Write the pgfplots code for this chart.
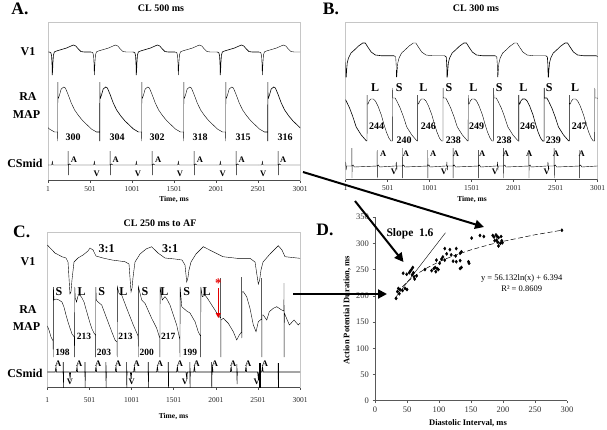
\documentclass[border=0pt]{standalone}
\usepackage{fontspec}
\setmainfont{Liberation Serif}
\usepackage{pgfplots}
\usepackage{pgfplotstable}
\pgfplotsset{compat=1.18}
\usetikzlibrary{arrows.meta}
\newcommand{\fs}[1]{\fontsize{#1}{#1}\selectfont}

% one beat of each trace (t in ms from the beat's reference, y in px from the top)
\pgfplotstableread{
t y
-40 52
-18 52.5
-8 56
-3 64
0 75
4 70
8 62
14 55
25 52
50 51
90 50
130 49
170 48
210 46.5
250 45
280 46
310 49
340 51.5
380 52
460 52
}\AVone
\pgfplotstableread{
t y
-40 132
-3 132
-1 141
0 82
2 97
8 98
20 95
40 89
70 87
90 88
120 94
160 103
200 110
250 116
300 121
350 125
400 129
440 131
460 132
}\AMap
\pgfplotstableread{
t y
-40 165
-6 165
-2 163
1 161.5
4 163
8 165
188 165
189 151
191 175
193 165
205 164
220 165
460 165
}\ACs
\pgfplotstableread{
t y
-30 55.7
-10 57
-4 65
-1 77
3 77
8 70
15 63
30 58
60 53
100 50
150 46
200 43
230 43
260 47
300 52
350 55
420 55.7
572 55.7
}\BVone
\pgfplotstableread{
t y
-5 141
0 141
0.5 95
3 104
12 104
25 101
45 99
75 99
100 101
130 106
170 115
200 124
230 132
260 138
285 141
302 141
303 88
306 98
335 98
360 102
394 108
430 116
473 127
533 135
585 140
597 141
}\BMap
\pgfplotstableread{
t y
-20 166
-6 166
-3 162
0 166
3 170
6 166
70 166
71 148
72 178
73 166
85 165
100 167
371 166
372 150
373 178
374 166
386 165
400 167
582 166
}\BCs

\pgfplotsset{
  ecg/.style={
    scale only axis, anchor=south west,
    xmin=1, xmax=3001,
    y filter/.expression={-y},
    axis line style={gray!45, line width=0.5pt},
    xtick={1,501,1001,1501,2001,2501,3001},
    xticklabels={1,501,1001,1501,2001,2501,3001},
    ytick=\empty,
    xtick pos=bottom, xtick align=outside,
    major tick length=2.5pt,
    tick style={black!70, line width=0.5pt},
    xticklabel style={font=\fs{7.5}, text=black!85, inner sep=1pt, yshift=-3pt},
    cycle list={{black, solid, line width=0.6pt, no marks}},
  },
}

\begin{document}
\begin{tikzpicture}
\useasboundingbox (0,0) rectangle (607pt,-429pt);

% ---------- A: CL 500 ms ----------
\begin{axis}[ecg, at={(48pt,-180pt)}, width=252pt, height=158pt, ymin=-180, ymax=-22]
\draw[black!70, line width=0.5pt] (axis description cs:0,0) -- (axis description cs:1,0);
\pgfplotsinvokeforeach{-448,52,552,1052,1552,2052,2552,3052}{
  \addplot table[x expr=\thisrow{t}+#1, y=y] {\AVone};
  \addplot table[x expr=\thisrow{t}+#1, y=y] {\ACs};
}
\pgfplotsinvokeforeach{-382,118,618,1118,1618,2118,2618,3118}{
  \addplot table[x expr=\thisrow{t}+#1, y=y] {\AMap};
}
\end{axis}

% ---------- B: CL 300 ms ----------
\begin{axis}[ecg, at={(345.7pt,-179pt)}, width=252pt, height=157pt, ymin=-179, ymax=-22]
\draw[black!70, line width=0.5pt] (axis description cs:0,0) -- (axis description cs:1,0);
\pgfplotsinvokeforeach{-598,4,606,1208,1810,2412,3014}{
  \addplot table[x expr=\thisrow{t}+#1, y=y] {\BVone};
  \addplot table[x expr=\thisrow{t}+#1, y=y] {\BCs};
}
\pgfplotsinvokeforeach{-347,255,857,1459,2061,2663}{
  \addplot table[x expr=\thisrow{t}+#1, y=y] {\BMap};
}
\end{axis}

% ---------- C: CL 250 ms to AF ----------
\begin{axis}[ecg, at={(47.3pt,-387pt)}, width=252.7pt, height=155pt, ymin=-387, ymax=-232,
  xticklabel style={yshift=-4pt}]
\draw[black!70, line width=0.5pt] (axis description cs:0,0) -- (axis description cs:1,0);
% V1
\addplot coordinates {
(1,245) (92,253) (175,256.7) (223,258) (247,262) (270,294) (282,292) (294,280) (318,262)
(365,258) (425,255) (484,251) (508,248) (544,250) (579,256) (662,258) (769,260) (923,261.7)
(971,264) (995,292) (1007,288) (1018,278) (1042,262) (1102,254) (1173,249) (1240,246.7)
(1315,253) (1398,258) (1517,259) (1600,260) (1636,265) (1656,282) (1670,278) (1683,270)
(1707,262) (1766,254) (1853,246.7) (1968,251.7) (2087,256.7) (2253,258.3) (2407,258.3)
(2467,262) (2506,284) (2522,280) (2538,270) (2562,262) (2645,254) (2743,245.7) (2787,250)
(2823,256.7) (3001,258.3)
};
% RA MAP
\addplot coordinates {
(1,326) (21,330) (45,337) (70,341) (72,357) (74,287) (80,300) (104,299) (140,300) (175,302)
(199,307) (223,315) (247,322) (270,328) (294,334) (322,337)
(325,357) (327,287) (333,298) (348,302) (365,296) (389,295) (413,298) (437,302) (460,309)
(484,316) (508,323) (532,329) (555,333) (573,335)
(575,357) (577,287) (583,300) (599,301.7) (647,305) (706,318.3) (766,331.7) (805,340) (829,342)
(831,357) (833,287) (852,293.3) (884,295) (944,308.3) (1022,325) (1074,335) (1080,337)
(1081,357) (1083,287) (1122,300) (1161,303.3) (1240,318.3) (1300,328.3) (1331,336.7) (1337,338)
(1338,357) (1340,287) (1366,300) (1398,296.7) (1420,299) (1458,305) (1493,314) (1537,325)
(1568,337) (1575,340)
(1576,357) (1578,287) (1597,306.7) (1656,311) (1695,313) (1755,321.7) (1794,332) (1820,336)
(1822,357) (1824,287) (1841,296.7) (1873,295) (1900,298) (1953,305) (2004,311.7) (2043,316.7)
(2058,318) (2059,278) (2061,357) (2063,320) (2091,318.3) (2150,323.3) (2209,331.7) (2250,340)
(2280,335) (2307,332) (2308,277) (2310,338) (2312,292) (2328,291.7) (2368,296.7) (2407,308.3)
(2447,325) (2479,331.7) (2506,321.7) (2545,319) (2546,278) (2548,357) (2550,315) (2565,315)
(2606,320) (2637,311.7) (2684,308.3) (2725,306.7) (2784,310) (2810,311) (2811,283) (2813,357)
(2815,313) (2875,325) (2930,320) (2981,325) (3001,323)
};
% CSmid
\addplot coordinates {
(1,372) (95,372) (100,369) (104,367) (110,372) (189,372) (190,362) (192,388) (194,372)
(262,372) (268,376) (272,378) (278,372) (345,372) (350,369) (354,367) (360,372)
(447,372) (448,362) (450,388) (452,372) (571,372) (576,368) (580,367) (586,372)
(696,372) (697,362) (699,388) (701,372) (808,372) (813,368) (817,367) (823,372)
(942,372) (943,362) (945,388) (947,372) (987,372) (992,376) (997,379) (1002,372)
(1027,372) (1032,368) (1036,367) (1042,372) (1198,372) (1199,362) (1201,388) (1203,372)
(1300,372) (1305,368) (1309,367) (1315,372) (1436,372) (1437,362) (1439,388) (1441,372)
(1537,372) (1542,368) (1546,367) (1552,372) (1648,372) (1653,376) (1658,379) (1663,372)
(1693,372) (1694,362) (1696,388) (1698,372) (1740,372) (1745,368) (1749,367) (1755,372)
(1951,372) (1952,362) (1954,388) (1956,372) (1958,369) (1962,367) (1968,372)
(2175,372) (2180,368) (2184,367) (2190,372) (2251,372) (2252,364) (2254,384) (2256,372)
(2352,372) (2357,368) (2361,367) (2367,372) (2498,372) (2503,376) (2508,380) (2513,372)
(2524,372) (2525,363) (2527,388) (2529,372) (2548,372) (2553,368) (2557,367) (2563,372)
(2741,372) (2742,363) (2744,388) (2746,372) (2750,372) (3001,372)
};
\addplot[black, line width=1.3pt] coordinates {(2526,363) (2526,388)};
\addplot[black, line width=1.3pt] coordinates {(2743,363) (2743,388)};
\end{axis}

% ---------- D: restitution ----------
\begin{axis}[at={(375pt,-400.7pt)}, anchor=south west, scale only axis,
  width=192pt, height=183.6pt, xmin=0, xmax=300, ymin=0, ymax=350,
  axis x line*=bottom, axis y line*=left, tick pos=left,
  axis line style={black!65, line width=0.5pt},
  xtick={0,50,...,300}, ytick={0,50,...,350},
  tick align=outside, major tick length=2.5pt,
  tick style={black!65, line width=0.5pt},
  ticklabel style={font=\fs{8.5}, text=black!80},
  /pgf/number format/assume math mode=true,
  clip=false]
\addplot[only marks, mark=diamond*, mark size=1.6pt, black] coordinates {
(33,195) (35,208) (36.5,214) (38,204) (39,212) (43,210) (47,214) (50,212) (44,243) (49.5,241)
(53.5,244) (57,250) (59,254) (55,247) (58,240) (61,236) (60,244) (65,238) (62,232) (78,250)
(88.5,248) (92,252) (95,246) (97,252) (99,250) (94,254) (96,268) (104,270) (109,268) (101,262)
(109,290) (117,288) (127,290) (112,280) (119,278) (126,276) (106,274) (122,266) (127,265)
(133,267) (133,252) (135,254) (135,284) (133,281) (146,265) (147,262) (151,310) (164,315)
(170,313) (184,315) (186,312) (189,316) (191,313) (193,311) (197,313) (187,305) (192,302)
(190,306) (198,305) (199,301) (196,300) (193,295) (292,325)
};
\addplot[black, line width=0.5pt, dash pattern=on 5pt off 2.5pt] coordinates {
(35,205.96) (40,213.46) (50,225.98) (60,236.21) (70,244.87) (80,252.37) (100,264.89)
(120,275.13) (150,287.65) (180,297.89) (200,303.80) (250,316.33) (292,325.04)
};
\addplot[black, line width=0.4pt] coordinates {(31,195) (110,320)};
\end{axis}

% ---------- text and arrows ----------
\begin{scope}[x=1pt, y=-1pt, lab/.style={font=\fs{12}\bfseries},
  num/.style={font=\fs{10}\bfseries}, sm/.style={font=\fs{8.5}\bfseries},
  ttl/.style={font=\fs{10}\bfseries}, pan/.style={font=\fs{17.5}\bfseries}]
% panel A
\node[pan] at (20,9) {A.};
\node[ttl] at (161,8) {CL 500 ms};
\node[lab] at (28,52) {V1};
\node[lab] at (28,97) {RA};
\node[lab] at (26.5,115) {MAP};
\node[lab] at (25,163.5) {CSmid};
\foreach \x/\t in {73/300,117/304,157/302,200/318,243/315,285/316} \node[num] at (\x,137) {\t};
\foreach \x in {74,115.7,158.3,200,241.7,283.3} \node[sm] at (\x,160) {A};
\foreach \x in {96.7,138,180,222.7,263.3} \node[sm] at (\x,173.3) {V};
\node[font=\fs{7.5}\bfseries] at (174,199.5) {Time, ms};
% panel B
\node[pan] at (331,9) {B.};
\node[ttl] at (476,8) {CL 300 ms};
\foreach \x in {375,423.3,473.3,523.3,575} \node[lab] at (\x,87.3) {L};
\foreach \x in {399.3,449,499.3,549.3} \node[lab] at (\x,87.3) {S};
\foreach \x/\y/\t in {376.7/126/244,404/140/240,428.3/126/246,453.3/140/238,476.7/126/249,
  504/140/238,527.7/126/246,553.3/140/239,579.3/126/247} \node[num] at (\x,\y) {\t};
\foreach \x in {383.3,406,433.3,456,482.3,506,529.3,556,581.7} \node[sm] at (\x,154) {A};
\foreach \x in {394,444,495,546.7} \node[sm] at (\x,171.7) {V};
\node[font=\fs{7.5}\bfseries] at (472,199.5) {Time, ms};
% panel C
\node[pan] at (21.7,231.7) {C.};
\node[ttl] at (160,223.3) {CL 250 ms to AF};
\node[lab] at (28,261.7) {V1};
\node[lab] at (28,310) {RA};
\node[lab] at (26.5,326.7) {MAP};
\node[lab] at (25,373.3) {CSmid};
\node[lab] at (106.7,248.3) {3:1};
\node[lab] at (170,248.3) {3:1};
\foreach \x in {59,101.7,145,186.7} \node[lab] at (\x,291.7) {S};
\foreach \x in {81.7,123.3,164.3,206.7} \node[lab] at (\x,291.7) {L};
\foreach \x/\y/\t in {62.5/352/198,84/336/213,104/352/203,125.5/336/213,146.7/352/200,
  168.3/336/217,190/352/199} \node[font=\fs{9.5}\bfseries] at (\x,\y) {\t};
\foreach \x in {58.3,79.3,98.3,118.3,136.7,160,180,196.7,215,233.3,248.3,265} \node[sm] at (\x,364) {A};
\foreach \x in {70,131.7,185,256.7} \node[sm] at (\x,381.7) {V};
\node[font=\fs{7.5}\bfseries] at (173.5,416) {Time, ms};
\draw[red!90!black, line width=1.6pt, -{Triangle[length=5pt,width=5pt]}] (218.3,288) -- (218.3,318);
\node[text=red!90!black, font=\fs{13}\bfseries] at (218.3,283) {*};
% panel D
\node[pan] at (325,230) {D.};
\node[font=\fs{11.5}\bfseries] at (410,233.3) {Slope\ \ 1.6};
\node[font=\fs{8.5}] at (521.7,278.3) {y = 56.132ln(x) + 6.394};
\node[font=\fs{8.5}] at (521.7,288.5) {R² = 0.8609};
\node[font=\fs{8.5}\bfseries, rotate=90] at (347,310) {Action Potential Duration, ms};
\node[font=\fs{8.5}\bfseries] at (468,423) {Diastolic Interval, ms};
% arrows between panels
\draw[line width=2pt, -{Triangle[length=9pt,width=9pt]}] (303,172) -- (484,227);
\draw[line width=2pt, -{Triangle[length=9pt,width=9pt]}] (355,201) -- (403.5,262);
\draw[line width=2pt, -{Triangle[length=9pt,width=9pt]}] (293,294) -- (387,294);
\end{scope}
\end{tikzpicture}
\end{document}
